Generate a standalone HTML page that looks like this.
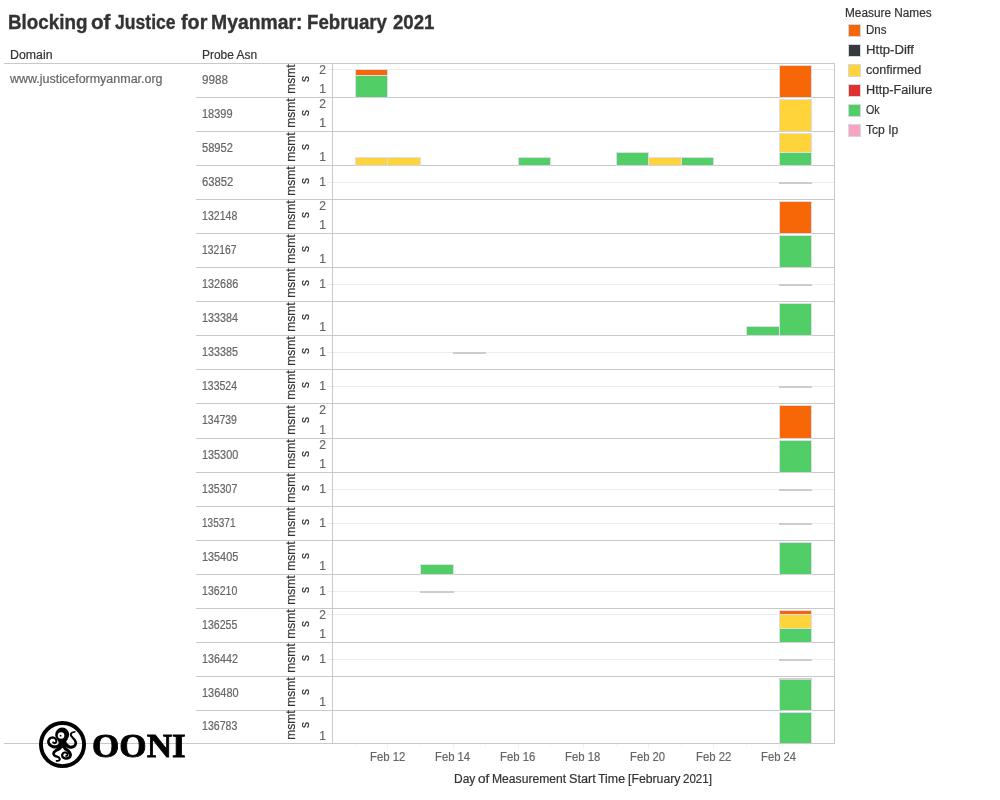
<!DOCTYPE html>
<html><head><meta charset="utf-8"><title>Blocking of Justice for Myanmar</title>
<style>
html,body{margin:0;padding:0;background:#fff;}
#w{position:absolute;left:0;top:0;width:1000px;height:800px;will-change:transform;}
body{width:1000px;height:800px;position:relative;overflow:hidden;font-family:"Liberation Sans",sans-serif;font-size:12px;color:#666;-webkit-text-stroke:0.2px;}
.a{position:absolute;}
.t{position:absolute;white-space:nowrap;line-height:14px;height:14px;transform-origin:0 50%;}
.d{color:#333;}
.hl{position:absolute;height:1px;background:#c9c9c9;}
.vl{position:absolute;width:1px;background:#c9c9c9;}
.g{position:absolute;height:1px;background:#ededed;}
.b{position:absolute;box-sizing:border-box;}
.r{position:absolute;white-space:nowrap;line-height:14px;height:14px;width:40px;text-align:center;color:#333;transform:rotate(-90deg);transform-origin:50% 50%;}
.n{position:absolute;white-space:nowrap;line-height:14px;height:14px;width:12px;text-align:right;left:314px;}
.sq{position:absolute;box-sizing:border-box;width:13px;height:13px;border:1px solid #d6d8de;left:848px;}
</style></head><body><div id="w">

<div class="t" style="left:7.82px;top:10px;transform:scaleX(0.9415);font-size:20px;font-weight:bold;line-height:24px;height:24px;color:#333;-webkit-text-stroke:0.35px;">Blocking</div>
<div class="t" style="left:91.38px;top:10px;transform:scaleX(1.0324);font-size:20px;font-weight:bold;line-height:24px;height:24px;color:#333;-webkit-text-stroke:0.35px;">of</div>
<div class="t" style="left:114.80px;top:10px;transform:scaleX(0.8788);font-size:20px;font-weight:bold;line-height:24px;height:24px;color:#333;-webkit-text-stroke:0.35px;">Justice</div>
<div class="t" style="left:181.05px;top:10px;transform:scaleX(0.9867);font-size:20px;font-weight:bold;line-height:24px;height:24px;color:#333;-webkit-text-stroke:0.35px;">for</div>
<div class="t" style="left:211.39px;top:10px;transform:scaleX(0.9689);font-size:20px;font-weight:bold;line-height:24px;height:24px;color:#333;-webkit-text-stroke:0.35px;">Myanmar:</div>
<div class="t" style="left:306.83px;top:10px;transform:scaleX(0.9349);font-size:20px;font-weight:bold;line-height:24px;height:24px;color:#333;-webkit-text-stroke:0.35px;">February</div>
<div class="t" style="left:392.53px;top:10px;transform:scaleX(0.9314);font-size:20px;font-weight:bold;line-height:24px;height:24px;color:#333;-webkit-text-stroke:0.35px;">2021</div>
<div class="t d" id="hdom" style="left:9.77px;top:48px;transform:scaleX(1.0278);">Domain</div>
<div class="t d" id="hasn" style="left:201.80px;top:48px;transform:scaleX(0.9963);">Probe Asn</div>
<div class="t" id="dom" style="left:10.20px;top:72px;transform:scaleX(1.0397);">www.justiceformyanmar.org</div>
<div class="g" style="left:327px;top:69px;width:507px;"></div>
<div class="g" style="left:327px;top:182px;width:507px;"></div>
<div class="g" style="left:327px;top:284px;width:507px;"></div>
<div class="g" style="left:327px;top:352px;width:507px;"></div>
<div class="g" style="left:327px;top:386px;width:507px;"></div>
<div class="g" style="left:327px;top:489px;width:507px;"></div>
<div class="g" style="left:327px;top:523px;width:507px;"></div>
<div class="g" style="left:327px;top:591px;width:507px;"></div>
<div class="g" style="left:327px;top:614px;width:507px;"></div>
<div class="g" style="left:327px;top:659px;width:507px;"></div>
<div class="hl" style="left:4px;top:63px;width:831px;"></div>
<div class="hl" style="left:196px;top:97px;width:639px;"></div>
<div class="hl" style="left:196px;top:131px;width:639px;"></div>
<div class="hl" style="left:196px;top:165px;width:639px;"></div>
<div class="hl" style="left:196px;top:199px;width:639px;"></div>
<div class="hl" style="left:196px;top:233px;width:639px;"></div>
<div class="hl" style="left:196px;top:267px;width:639px;"></div>
<div class="hl" style="left:196px;top:301px;width:639px;"></div>
<div class="hl" style="left:196px;top:335px;width:639px;"></div>
<div class="hl" style="left:196px;top:369px;width:639px;"></div>
<div class="hl" style="left:196px;top:403px;width:639px;"></div>
<div class="hl" style="left:196px;top:438px;width:639px;"></div>
<div class="hl" style="left:196px;top:472px;width:639px;"></div>
<div class="hl" style="left:196px;top:506px;width:639px;"></div>
<div class="hl" style="left:196px;top:540px;width:639px;"></div>
<div class="hl" style="left:196px;top:574px;width:639px;"></div>
<div class="hl" style="left:196px;top:608px;width:639px;"></div>
<div class="hl" style="left:196px;top:642px;width:639px;"></div>
<div class="hl" style="left:196px;top:676px;width:639px;"></div>
<div class="hl" style="left:196px;top:710px;width:639px;"></div>
<div class="hl" style="left:4px;top:743px;width:831px;"></div>
<div class="vl" style="left:332px;top:63px;height:681px;"></div>
<div class="vl" style="left:834px;top:63px;height:681px;"></div>
<div class="vl" style="left:387px;top:744px;height:5px;background:#f0f0f0;"></div>
<div class="vl" style="left:355px;top:744px;height:2px;background:#f3f3f3;"></div>
<div class="vl" style="left:453px;top:744px;height:5px;background:#f0f0f0;"></div>
<div class="vl" style="left:420px;top:744px;height:2px;background:#f3f3f3;"></div>
<div class="vl" style="left:518px;top:744px;height:5px;background:#f0f0f0;"></div>
<div class="vl" style="left:485px;top:744px;height:2px;background:#f3f3f3;"></div>
<div class="vl" style="left:583px;top:744px;height:5px;background:#f0f0f0;"></div>
<div class="vl" style="left:550px;top:744px;height:2px;background:#f3f3f3;"></div>
<div class="vl" style="left:648px;top:744px;height:5px;background:#f0f0f0;"></div>
<div class="vl" style="left:616px;top:744px;height:2px;background:#f3f3f3;"></div>
<div class="vl" style="left:713px;top:744px;height:5px;background:#f0f0f0;"></div>
<div class="vl" style="left:681px;top:744px;height:2px;background:#f3f3f3;"></div>
<div class="vl" style="left:779px;top:744px;height:5px;background:#f0f0f0;"></div>
<div class="vl" style="left:746px;top:744px;height:2px;background:#f3f3f3;"></div>
<div class="b" style="left:355px;top:69px;width:33px;height:6px;background:#f76707;border:1px solid #dcdfe8;border-bottom:none;"></div>
<div class="b" style="left:355px;top:75px;width:33px;height:23px;background:#51cf66;border:1px solid #dcdfe8;border-bottom-color:#d3d5db;"></div>
<div class="b" style="left:779px;top:65px;width:33px;height:33px;background:#f76707;border:1px solid #dcdfe8;border-bottom-color:#d3d5db;"></div>
<div class="b" style="left:779px;top:99px;width:33px;height:33px;background:#ffd43b;border:1px solid #dcdfe8;border-bottom-color:#d3d5db;"></div>
<div class="b" style="left:355px;top:157px;width:33px;height:9px;background:#ffd43b;border:1px solid #dcdfe8;border-bottom-color:#d3d5db;"></div>
<div class="b" style="left:387px;top:157px;width:34px;height:9px;background:#ffd43b;border:1px solid #dcdfe8;border-bottom-color:#d3d5db;"></div>
<div class="b" style="left:518px;top:157px;width:33px;height:9px;background:#51cf66;border:1px solid #dcdfe8;border-bottom-color:#d3d5db;"></div>
<div class="b" style="left:616px;top:152px;width:33px;height:14px;background:#51cf66;border:1px solid #dcdfe8;border-bottom-color:#d3d5db;"></div>
<div class="b" style="left:648px;top:157px;width:34px;height:9px;background:#ffd43b;border:1px solid #dcdfe8;border-bottom-color:#d3d5db;"></div>
<div class="b" style="left:681px;top:157px;width:33px;height:9px;background:#51cf66;border:1px solid #dcdfe8;border-bottom-color:#d3d5db;"></div>
<div class="b" style="left:779px;top:133px;width:33px;height:19px;background:#ffd43b;border:1px solid #dcdfe8;border-bottom:none;"></div>
<div class="b" style="left:779px;top:152px;width:33px;height:14px;background:#51cf66;border:1px solid #dcdfe8;border-bottom-color:#d3d5db;"></div>
<div class="b" style="left:779px;top:201px;width:33px;height:33px;background:#f76707;border:1px solid #dcdfe8;border-bottom-color:#d3d5db;"></div>
<div class="b" style="left:779px;top:235px;width:33px;height:33px;background:#51cf66;border:1px solid #dcdfe8;border-bottom-color:#d3d5db;"></div>
<div class="b" style="left:746px;top:326px;width:34px;height:10px;background:#51cf66;border:1px solid #dcdfe8;border-bottom-color:#d3d5db;"></div>
<div class="b" style="left:779px;top:303px;width:33px;height:33px;background:#51cf66;border:1px solid #dcdfe8;border-bottom-color:#d3d5db;"></div>
<div class="b" style="left:779px;top:405px;width:33px;height:34px;background:#f76707;border:1px solid #dcdfe8;border-bottom-color:#d3d5db;"></div>
<div class="b" style="left:779px;top:440px;width:33px;height:33px;background:#51cf66;border:1px solid #dcdfe8;border-bottom-color:#d3d5db;"></div>
<div class="b" style="left:420px;top:564px;width:34px;height:11px;background:#51cf66;border:1px solid #dcdfe8;border-bottom-color:#d3d5db;"></div>
<div class="b" style="left:779px;top:542px;width:33px;height:33px;background:#51cf66;border:1px solid #dcdfe8;border-bottom-color:#d3d5db;"></div>
<div class="b" style="left:779px;top:610px;width:33px;height:4px;background:#f76707;border:1px solid #dcdfe8;border-bottom:none;"></div>
<div class="b" style="left:779px;top:614px;width:33px;height:14px;background:#ffd43b;border:1px solid #dcdfe8;border-bottom:none;"></div>
<div class="b" style="left:779px;top:628px;width:33px;height:15px;background:#51cf66;border:1px solid #dcdfe8;border-bottom-color:#d3d5db;"></div>
<div class="b" style="left:779px;top:679px;width:33px;height:32px;background:#51cf66;border:1px solid #dcdfe8;border-bottom-color:#d3d5db;"></div>
<div class="b" style="left:779px;top:712px;width:33px;height:31px;background:#51cf66;border:1px solid #dcdfe8;border-bottom:none;"></div>
<div class="b" style="left:779px;top:182px;width:33px;height:2px;background:#cccccc;"></div>
<div class="b" style="left:779px;top:284px;width:33px;height:2px;background:#cccccc;"></div>
<div class="b" style="left:453px;top:352px;width:33px;height:2px;background:#cccccc;"></div>
<div class="b" style="left:779px;top:386px;width:33px;height:2px;background:#cccccc;"></div>
<div class="b" style="left:779px;top:489px;width:33px;height:2px;background:#cccccc;"></div>
<div class="b" style="left:779px;top:523px;width:33px;height:2px;background:#cccccc;"></div>
<div class="b" style="left:420px;top:591px;width:34px;height:2px;background:#cccccc;"></div>
<div class="b" style="left:779px;top:659px;width:33px;height:2px;background:#cccccc;"></div>
<div class="b" style="left:779px;top:678px;width:33px;height:2px;background:#d0cfd2;"></div>
<div class="t" style="left:201.91px;top:73px;transform:scaleX(0.9709);">9988</div>
<div class="r" style="left:270.5px;top:71.5px;">msmt</div>
<div class="r" style="left:285.0px;top:71.5px;">s</div>
<div class="n" style="top:63px;">2</div>
<div class="n" style="top:82px;">1</div>
<div class="t" style="left:202.19px;top:107px;transform:scaleX(0.9134);">18399</div>
<div class="r" style="left:270.5px;top:105.5px;">msmt</div>
<div class="r" style="left:285.0px;top:105.5px;">s</div>
<div class="n" style="top:97px;">2</div>
<div class="n" style="top:116px;">1</div>
<div class="t" style="left:201.94px;top:141px;transform:scaleX(0.9271);">58952</div>
<div class="r" style="left:270.5px;top:139.5px;">msmt</div>
<div class="r" style="left:285.0px;top:139.5px;">s</div>
<div class="n" style="top:150px;">1</div>
<div class="t" style="left:201.93px;top:175px;transform:scaleX(0.9395);">63852</div>
<div class="r" style="left:270.5px;top:173.5px;">msmt</div>
<div class="r" style="left:285.0px;top:173.5px;">s</div>
<div class="n" style="top:175px;">1</div>
<div class="t" style="left:202.22px;top:209px;transform:scaleX(0.8805);">132148</div>
<div class="r" style="left:270.5px;top:207.5px;">msmt</div>
<div class="r" style="left:285.0px;top:207.5px;">s</div>
<div class="n" style="top:199px;">2</div>
<div class="n" style="top:218px;">1</div>
<div class="t" style="left:202.24px;top:243px;transform:scaleX(0.8597);">132167</div>
<div class="r" style="left:270.5px;top:241.5px;">msmt</div>
<div class="r" style="left:285.0px;top:241.5px;">s</div>
<div class="n" style="top:252px;">1</div>
<div class="t" style="left:202.20px;top:277px;transform:scaleX(0.9039);">132686</div>
<div class="r" style="left:270.5px;top:275.5px;">msmt</div>
<div class="r" style="left:285.0px;top:275.5px;">s</div>
<div class="n" style="top:277px;">1</div>
<div class="t" style="left:202.20px;top:311px;transform:scaleX(0.8981);">133384</div>
<div class="r" style="left:270.5px;top:309.5px;">msmt</div>
<div class="r" style="left:285.0px;top:309.5px;">s</div>
<div class="n" style="top:320px;">1</div>
<div class="t" style="left:202.20px;top:345px;transform:scaleX(0.8961);">133385</div>
<div class="r" style="left:270.5px;top:343.5px;">msmt</div>
<div class="r" style="left:285.0px;top:343.5px;">s</div>
<div class="n" style="top:345px;">1</div>
<div class="t" style="left:202.23px;top:379px;transform:scaleX(0.8748);">133524</div>
<div class="r" style="left:270.5px;top:377.5px;">msmt</div>
<div class="r" style="left:285.0px;top:377.5px;">s</div>
<div class="n" style="top:379px;">1</div>
<div class="t" style="left:202.23px;top:413px;transform:scaleX(0.8727);">134739</div>
<div class="r" style="left:270.5px;top:412.5px;">msmt</div>
<div class="r" style="left:285.0px;top:412.5px;">s</div>
<div class="n" style="top:403px;">2</div>
<div class="n" style="top:423px;">1</div>
<div class="t" style="left:202.20px;top:448px;transform:scaleX(0.9039);">135300</div>
<div class="r" style="left:270.5px;top:446.5px;">msmt</div>
<div class="r" style="left:285.0px;top:446.5px;">s</div>
<div class="n" style="top:438px;">2</div>
<div class="n" style="top:457px;">1</div>
<div class="t" style="left:202.22px;top:482px;transform:scaleX(0.8805);">135307</div>
<div class="r" style="left:270.5px;top:480.5px;">msmt</div>
<div class="r" style="left:285.0px;top:480.5px;">s</div>
<div class="n" style="top:482px;">1</div>
<div class="t" style="left:202.26px;top:516px;transform:scaleX(0.8364);">135371</div>
<div class="r" style="left:270.5px;top:514.5px;">msmt</div>
<div class="r" style="left:285.0px;top:514.5px;">s</div>
<div class="n" style="top:516px;">1</div>
<div class="t" style="left:202.20px;top:550px;transform:scaleX(0.9039);">135405</div>
<div class="r" style="left:270.5px;top:548.5px;">msmt</div>
<div class="r" style="left:285.0px;top:548.5px;">s</div>
<div class="n" style="top:559px;">1</div>
<div class="t" style="left:202.22px;top:584px;transform:scaleX(0.8805);">136210</div>
<div class="r" style="left:270.5px;top:582.5px;">msmt</div>
<div class="r" style="left:285.0px;top:582.5px;">s</div>
<div class="n" style="top:584px;">1</div>
<div class="t" style="left:202.22px;top:618px;transform:scaleX(0.8805);">136255</div>
<div class="r" style="left:270.5px;top:616.5px;">msmt</div>
<div class="r" style="left:285.0px;top:616.5px;">s</div>
<div class="n" style="top:608px;">2</div>
<div class="n" style="top:627px;">1</div>
<div class="t" style="left:202.20px;top:652px;transform:scaleX(0.8961);">136442</div>
<div class="r" style="left:270.5px;top:650.5px;">msmt</div>
<div class="r" style="left:285.0px;top:650.5px;">s</div>
<div class="n" style="top:652px;">1</div>
<div class="t" style="left:202.18px;top:686px;transform:scaleX(0.9169);">136480</div>
<div class="r" style="left:270.5px;top:684.5px;">msmt</div>
<div class="r" style="left:285.0px;top:684.5px;">s</div>
<div class="n" style="top:695px;">1</div>
<div class="t" style="left:202.22px;top:719px;transform:scaleX(0.8805);">136783</div>
<div class="r" style="left:270.5px;top:718.0px;">msmt</div>
<div class="r" style="left:285.0px;top:718.0px;">s</div>
<div class="n" style="top:729px;">1</div>
<div class="t" style="left:369.65px;top:750px;transform:scaleX(0.9455);">Feb 12</div>
<div class="t" style="left:434.86px;top:750px;transform:scaleX(0.9389);">Feb 14</div>
<div class="t" style="left:500.05px;top:750px;transform:scaleX(0.9455);">Feb 16</div>
<div class="t" style="left:565.25px;top:750px;transform:scaleX(0.9455);">Feb 18</div>
<div class="t" style="left:630.46px;top:750px;transform:scaleX(0.9389);">Feb 20</div>
<div class="t" style="left:695.65px;top:750px;transform:scaleX(0.9455);">Feb 22</div>
<div class="t" style="left:760.86px;top:750px;transform:scaleX(0.9389);">Feb 24</div>
<div class="t d" style="left:453.90px;top:772px;transform:scaleX(0.9975);">Day</div>
<div class="t d" style="left:478.33px;top:772px;transform:scaleX(1.1368);">of</div>
<div class="t d" style="left:492.19px;top:772px;transform:scaleX(1.0104);">Measurement</div>
<div class="t d" style="left:569.17px;top:772px;transform:scaleX(1.0586);">Start</div>
<div class="t d" style="left:598.34px;top:772px;transform:scaleX(1.0314);">Time</div>
<div class="t d" style="left:628.13px;top:772px;transform:scaleX(1.0218);">[February</div>
<div class="t d" style="left:683.32px;top:772px;transform:scaleX(0.9600);">2021]</div>
<div class="t d" id="lt" style="left:844.62px;top:6px;transform:scaleX(0.9844);">Measure Names</div>
<div class="sq" style="top:24px;background:#f76707;"></div>
<div class="t d" id="lg0" style="left:865.84px;top:23px;transform:scaleX(0.9600);">Dns</div>
<div class="sq" style="top:44px;background:#343a40;"></div>
<div class="t d" id="lg1" style="left:865.71px;top:43px;transform:scaleX(1.0947);">Http-Diff</div>
<div class="sq" style="top:64px;background:#ffd43b;"></div>
<div class="t d" id="lg2" style="left:865.98px;top:63px;transform:scaleX(1.0485);">confirmed</div>
<div class="sq" style="top:84px;background:#e03131;"></div>
<div class="t d" id="lg3" style="left:865.74px;top:83px;transform:scaleX(1.0580);">Http-Failure</div>
<div class="sq" style="top:104px;background:#51cf66;"></div>
<div class="t d" id="lg4" style="left:866.35px;top:103px;transform:scaleX(0.8949);">Ok</div>
<div class="sq" style="top:124px;background:#faa2c1;"></div>
<div class="t d" id="lg5" style="left:866.25px;top:123px;transform:scaleX(1.0080);">Tcp Ip</div>
<svg class="a" style="left:36px;top:718px;" width="54" height="52" viewBox="0 0 831 800">
<circle cx="408" cy="408" r="332" fill="none" stroke="#000" stroke-width="60"/>
<circle cx="403" cy="256" r="108" fill="#000"/>
<path d="M318 320 Q365 380 350 440 Q400 470 455 440 Q445 380 492 318 Z" fill="#000"/>
<circle cx="386" cy="270" r="50" fill="#fff"/>
<circle cx="378" cy="272" r="14" fill="#000"/>
<g fill="#000"><path d="M361 379 L358 383 L354 387 L350 390 L347 394 L345 397 L342 400 L339 403 L337 405 L335 407 L333 408 L331 410 L329 411 L326 412 L322 414 L319 415 L315 417 L311 418 L307 419 L303 420 L299 420 L295 421 L291 421 L287 421 L284 421 L280 420 L275 419 L271 418 L265 416 L260 414 L255 412 L250 410 L245 408 L240 405 L236 403 L233 401 L230 398 L228 396 L226 394 L223 391 L221 388 L220 385 L218 382 L217 379 L215 376 L214 373 L214 370 L213 367 L213 364 L213 362 L213 360 L213 357 L214 354 L215 351 L216 348 L217 344 L219 341 L220 339 L222 336 L224 334 L225 332 L227 330 L229 328 L232 327 L234 325 L237 323 L240 322 L243 321 L246 320 L249 319 L252 318 L255 318 L257 318 L259 318 L262 318 L265 319 L268 320 L271 321 L275 322 L278 324 L281 326 L284 327 L286 329 L288 331 L289 332 L291 334 L292 336 L293 338 L294 341 L295 344 L296 347 L297 350 L297 353 L297 356 L298 358 L298 360 L297 362 L297 363 L297 364 L296 365 L295 366 L294 368 L293 369 L291 371 L290 372 L288 373 L287 374 L286 374 L286 374 L287 374 L287 374 L287 374 L286 374 L285 373 L283 372 L281 371 L279 369 L276 368 L274 366 L271 364 L269 363 L255 385 L257 386 L259 388 L261 389 L263 391 L265 392 L267 394 L270 396 L273 398 L277 400 L281 401 L285 402 L290 402 L294 401 L298 399 L302 398 L305 396 L309 393 L312 391 L315 388 L318 385 L321 381 L323 377 L325 373 L327 368 L327 364 L328 359 L328 355 L328 350 L327 345 L326 340 L325 335 L324 330 L322 326 L320 321 L318 316 L315 312 L311 308 L307 304 L303 301 L299 298 L295 295 L290 292 L285 290 L280 287 L275 286 L270 284 L264 283 L259 282 L253 282 L248 283 L243 283 L237 284 L232 286 L227 287 L222 289 L217 292 L212 294 L207 297 L203 301 L199 304 L195 308 L191 312 L188 317 L185 321 L182 326 L179 331 L177 337 L175 342 L173 348 L172 354 L171 360 L171 366 L171 371 L172 377 L173 383 L175 388 L176 394 L178 400 L181 405 L184 411 L187 416 L191 422 L195 427 L200 432 L205 436 L211 440 L216 444 L222 448 L229 452 L235 455 L242 458 L249 461 L256 464 L263 466 L269 468 L276 469 L283 470 L290 471 L297 471 L303 471 L310 470 L316 469 L323 468 L329 467 L335 465 L340 463 L346 461 L351 459 L357 456 L363 453 L368 449 L373 446 L377 442 L381 438 L384 435 L387 431 L390 428 L393 426 L396 423 L399 421Z"/><circle cx="262" cy="374" r="13"/><path d="M419 398 L422 402 L425 405 L428 409 L432 413 L435 417 L439 421 L442 425 L446 429 L450 433 L454 438 L459 442 L464 445 L468 449 L473 452 L477 455 L482 458 L487 460 L492 463 L498 466 L503 468 L509 470 L515 472 L521 473 L528 474 L534 474 L540 474 L547 473 L553 472 L559 471 L565 469 L571 467 L577 465 L582 462 L588 459 L593 456 L598 453 L603 449 L607 445 L611 440 L615 436 L618 431 L621 426 L624 420 L626 415 L628 409 L630 404 L631 398 L632 392 L632 386 L632 380 L631 374 L630 369 L628 363 L626 358 L624 353 L622 348 L619 344 L617 339 L614 335 L612 331 L609 326 L605 322 L602 317 L598 313 L595 310 L591 306 L588 303 L584 300 L581 296 L578 293 L575 291 L573 288 L570 285 L568 281 L565 278 L562 275 L560 272 L557 269 L556 267 L554 264 L553 262 L552 260 L551 259 L551 258 L551 257 L551 256 L551 254 L551 253 L552 251 L552 249 L553 247 L554 246 L556 244 L557 242 L559 240 L560 239 L562 238 L564 236 L566 235 L569 234 L573 233 L577 231 L581 230 L585 229 L589 228 L593 226 L598 225 L602 223 L594 201 L590 202 L587 203 L583 204 L578 205 L574 206 L570 207 L565 208 L561 209 L556 211 L552 212 L548 215 L544 217 L540 220 L537 223 L534 226 L532 229 L529 232 L527 236 L525 240 L523 244 L522 248 L521 253 L521 257 L521 262 L522 267 L523 271 L525 276 L527 280 L530 284 L532 287 L535 291 L537 295 L540 298 L542 301 L545 305 L547 308 L550 312 L553 316 L556 320 L560 323 L563 327 L566 330 L569 334 L572 337 L574 340 L577 343 L578 346 L580 349 L582 353 L584 357 L585 360 L587 364 L589 368 L590 371 L591 375 L592 378 L592 381 L592 384 L592 386 L592 388 L591 390 L591 392 L590 395 L588 398 L587 401 L585 404 L583 407 L581 409 L579 412 L576 414 L574 416 L572 417 L570 419 L567 420 L564 421 L560 423 L557 424 L553 425 L549 425 L545 426 L541 426 L538 426 L535 426 L532 426 L530 426 L528 425 L525 424 L522 423 L519 421 L516 419 L513 417 L509 415 L506 413 L503 410 L499 407 L496 405 L494 402 L491 400 L488 397 L486 394 L483 390 L480 387 L477 383 L474 379 L471 375 L468 370 L465 366 L461 362Z"/><circle cx="598" cy="212" r="12"/><path d="M379 403 L375 408 L372 413 L369 418 L366 422 L363 427 L360 431 L358 435 L355 439 L352 442 L350 445 L347 448 L344 451 L341 454 L338 456 L334 459 L329 462 L324 464 L319 467 L314 470 L308 473 L302 476 L297 480 L291 484 L286 488 L282 492 L278 495 L274 499 L270 503 L267 507 L263 512 L260 516 L257 521 L255 526 L252 531 L251 537 L250 543 L250 549 L251 555 L252 561 L254 566 L257 571 L260 575 L263 580 L266 583 L269 587 L273 591 L277 594 L281 597 L286 600 L291 603 L296 605 L302 607 L307 608 L312 609 L317 611 L321 612 L325 613 L328 614 L331 615 L333 616 L335 617 L337 619 L340 621 L342 623 L344 625 L346 627 L347 629 L349 630 L350 632 L350 633 L351 634 L351 634 L351 634 L351 634 L351 634 L351 635 L350 636 L350 637 L349 638 L348 639 L347 641 L345 642 L344 643 L343 643 L343 644 L342 644 L340 645 L338 645 L336 645 L334 646 L331 646 L328 646 L325 646 L321 646 L318 647 L315 647 L317 673 L320 673 L322 673 L325 673 L328 673 L331 673 L335 673 L338 673 L342 673 L345 672 L349 671 L353 670 L357 669 L360 667 L363 665 L366 662 L369 660 L371 657 L374 654 L376 651 L378 648 L380 644 L381 639 L381 635 L381 630 L380 625 L379 621 L377 617 L375 614 L373 610 L371 607 L368 603 L365 600 L362 597 L359 594 L355 591 L351 588 L346 585 L341 583 L336 580 L331 579 L327 577 L322 575 L317 574 L313 572 L310 571 L307 570 L305 568 L303 567 L301 565 L299 563 L297 561 L295 559 L294 556 L292 554 L291 552 L291 550 L290 549 L290 548 L290 547 L290 547 L290 547 L291 546 L292 544 L293 543 L294 540 L296 538 L299 536 L301 533 L304 530 L307 527 L311 525 L314 522 L317 520 L320 518 L324 516 L329 514 L334 512 L340 509 L346 506 L352 504 L358 501 L364 497 L370 493 L376 489 L381 484 L386 480 L391 475 L395 470 L399 466 L402 461 L406 457 L409 452 L412 448 L415 444 L418 440 L421 437Z"/><circle cx="316" cy="660" r="13"/><path d="M397 434 L399 437 L401 441 L404 445 L406 450 L408 454 L411 458 L414 463 L417 468 L420 473 L423 477 L427 482 L431 487 L436 492 L441 496 L445 499 L450 503 L455 505 L459 508 L463 510 L466 513 L470 515 L472 517 L475 519 L477 521 L480 525 L484 528 L487 532 L491 536 L494 541 L497 545 L500 549 L503 553 L505 556 L506 559 L508 562 L508 564 L508 566 L509 568 L508 571 L508 573 L508 576 L507 579 L506 582 L505 584 L503 587 L502 589 L500 590 L499 592 L497 593 L495 594 L492 596 L488 598 L484 599 L479 600 L475 601 L470 602 L466 603 L462 603 L458 603 L455 603 L452 603 L449 602 L446 601 L442 599 L439 597 L435 595 L432 593 L429 591 L426 588 L424 586 L422 584 L421 583 L421 582 L420 581 L420 580 L420 578 L420 575 L420 573 L420 570 L421 567 L422 565 L422 562 L423 560 L424 559 L425 558 L426 556 L427 555 L429 553 L431 552 L433 550 L436 549 L438 548 L440 547 L443 546 L444 546 L446 545 L447 545 L449 546 L451 546 L453 547 L455 547 L458 548 L460 550 L463 551 L465 552 L467 554 L468 555 L469 555 L470 556 L470 557 L470 558 L471 559 L471 560 L472 562 L472 563 L472 565 L472 566 L472 567 L472 568 L472 568 L472 567 L473 566 L473 566 L473 566 L472 567 L471 567 L469 568 L467 569 L465 569 L462 570 L459 571 L457 572 L467 596 L468 595 L470 595 L472 595 L474 594 L476 594 L479 593 L481 592 L484 591 L487 589 L491 587 L494 584 L496 580 L498 576 L499 573 L499 570 L500 566 L500 563 L499 559 L499 555 L498 551 L497 548 L496 544 L493 540 L491 537 L488 534 L485 531 L482 528 L478 526 L475 524 L471 522 L467 520 L463 518 L458 516 L454 515 L449 515 L444 515 L440 515 L435 516 L431 517 L426 519 L422 520 L418 522 L414 525 L410 527 L406 530 L402 534 L399 537 L396 541 L394 545 L392 549 L390 554 L388 558 L387 563 L386 568 L385 573 L385 579 L385 584 L386 590 L388 595 L391 601 L394 606 L397 610 L401 614 L405 618 L410 622 L415 626 L420 629 L425 632 L431 635 L437 638 L443 640 L449 641 L455 642 L462 642 L468 642 L475 641 L482 641 L488 639 L495 638 L501 636 L507 634 L514 631 L519 628 L525 624 L530 620 L534 616 L538 611 L542 605 L545 600 L547 594 L549 588 L551 582 L552 576 L553 569 L553 563 L552 556 L550 549 L548 543 L545 536 L542 530 L539 524 L535 519 L532 513 L528 508 L524 503 L520 498 L516 493 L513 489 L508 484 L503 480 L499 476 L494 472 L490 469 L486 466 L482 464 L478 461 L475 459 L473 457 L471 455 L469 453 L467 451 L465 448 L463 445 L461 441 L459 437 L457 433 L455 429 L453 425 L451 420 L448 416 L446 411 L443 406Z"/><circle cx="462" cy="584" r="13"/></g>
</svg>
<div class="t" id="ooni" style="left:92.46px;top:728px;transform:scaleX(1.0338);font-family:'Liberation Serif',serif;font-weight:bold;font-size:34px;line-height:36px;height:36px;color:#000;-webkit-text-stroke:0.8px #000;">OONI</div>
</div></body></html>
